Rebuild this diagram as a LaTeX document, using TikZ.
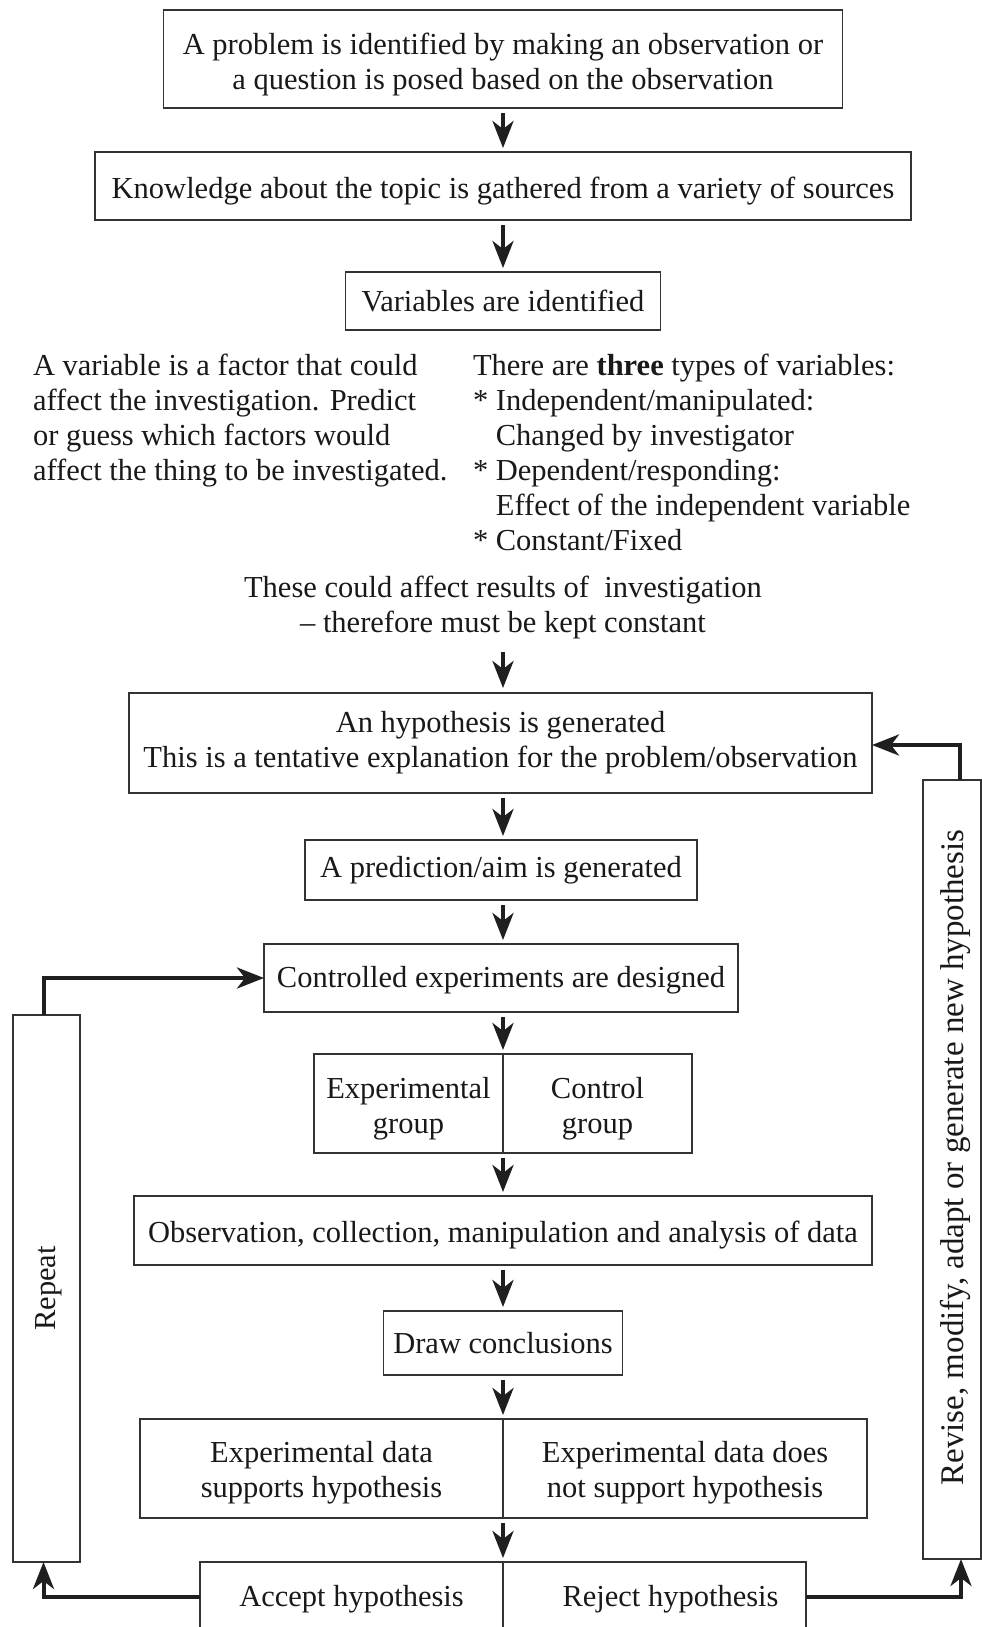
\documentclass[tikz,border=0pt]{standalone}
\usepackage{fontspec}
\setmainfont{Liberation Serif}
\usetikzlibrary{arrows.meta}
\newcommand\dnstrut[1]{\rule{0pt}{#1}}
\begin{document}
\begin{tikzpicture}[x=1pt,y=-1pt,
  every node/.style={font=\fontsize{30.5}{35}\selectfont, text=black!90},
  box/.style={draw=black!80, line width=1.4pt, inner sep=0pt, outer sep=0pt, align=center},
  txt/.style={inner sep=0pt, outer sep=0pt},
  arr/.style={line width=4pt, draw=black!88, -{Stealth[length=27pt,width=21pt,inset=8pt]}},
  varr/.style={arr, shorten <=5pt, shorten >=4pt}]
\clip (0,0) rectangle (982,1627);
\fill[white] (0,0) rectangle (982,1627);

% main column
\node[box, minimum width=679pt, minimum height=98pt] (b1) at (503,59)
  {\dnstrut{33pt}A problem is identified by making an observation or\\a question is posed based on the observation};
\node[box, minimum width=816pt, minimum height=68pt] (b2) at (503,186)
  {\dnstrut{31pt}Knowledge about the topic is gathered from a variety of sources};
\node[box, minimum width=315pt, minimum height=58pt] (b3) at (503,301)
  {Variables are identified};

\node[txt, anchor=north west, align=left] (tl) at (33,354)
  {A variable is a factor that could\\affect the investigation. Predict\\or guess which factors would\\affect the thing to be investigated.};
\node[txt, anchor=north west, align=left] (tr) at (473,354)
  {There are \textbf{three} types of variables:\\{*} Independent/manipulated:\\\hphantom{* }Changed by investigator\\{*} Dependent/responding:\\\hphantom{* }Effect of the independent variable\\{*} Constant/Fixed};

\node[txt, align=center] (ths) at (503,608)
  {These could affect results of\ \ investigation\\– therefore must be kept constant};

\node[box, minimum width=743pt, minimum height=100pt] (hyp) at (500.5,743)
  {An hypothesis is generated\\This is a tentative explanation for the problem/observation};
\node[box, minimum width=392pt, minimum height=60pt] (pred) at (501,870)
  {A prediction/aim is generated};
\node[box, minimum width=474pt, minimum height=68pt] (ctl) at (501,978)
  {\dnstrut{25pt}Controlled experiments are designed};

\node[box, minimum width=189pt, minimum height=99pt] (expg) at (408.5,1103.5)
  {\dnstrut{31pt}Experimental\\group};
\node[box, minimum width=189pt, minimum height=99pt] (ctrg) at (597.5,1103.5)
  {\dnstrut{31pt}Control\\group};

\node[box, minimum width=738pt, minimum height=69pt] (obs) at (503,1230.5)
  {\dnstrut{31pt}Observation, collection, manipulation and analysis of data};
\node[box, minimum width=239pt, minimum height=64pt] (drw) at (503,1343)
  {Draw conclusions};

\node[box, minimum width=363pt, minimum height=99pt] (eds) at (321.5,1468.5)
  {\dnstrut{29pt}Experimental data\\supports hypothesis};
\node[box, minimum width=364pt, minimum height=99pt] (edn) at (685,1468.5)
  {\dnstrut{29pt}Experimental data does\\not support hypothesis};

\node[box, minimum width=303pt, minimum height=70pt] (acc) at (351.5,1597)
  {\dnstrut{25pt}Accept hypothesis};
\node[box, minimum width=303pt, minimum height=70pt] (rej) at (654.5,1597) {};
\node[txt] (rejt) at ([xshift=16pt,yshift=-2pt]rej.center) {Reject hypothesis};

% side boxes
\node[box, minimum width=67pt, minimum height=547pt] (rep) at (46.5,1288.5) {};
\node[txt, rotate=90] (rept) at ([xshift=2pt]rep.center) {Repeat};
\node[box, minimum width=58pt, minimum height=779pt] (rev) at (952,1169.5) {};
\node[txt, rotate=90, font=\fontsize{33}{38}\selectfont] (revt) at ([xshift=3pt,yshift=12pt]rev.center)
  {Revise, modify, adapt or generate new hypothesis};

% vertical arrows
\draw[varr] (b1.south) -- (b2.north);
\draw[varr] (b2.south) -- (b3.north);
\draw[arr, shorten <=13pt, shorten >=5pt] (ths.south) -- (ths.south |- hyp.north);
\draw[varr] (hyp.south -| b3.south) -- (b3.south |- pred.north);
\draw[varr] (pred.south -| b3.south) -- (b3.south |- ctl.north);
\draw[varr] (expg.north east |- ctl.south) -- (expg.north east);
\draw[varr] (expg.south east) -- (obs.north);
\draw[varr] (obs.south) -- (drw.north);
\draw[varr] (drw.south) -- (eds.north east);
\draw[varr] (eds.south east) -- (acc.north east);

% loops
\draw[arr] (acc.west) -| ([xshift=-3pt]rep.south);
\draw[arr] ([xshift=-3pt]rep.north) |- (ctl.west);
\draw[arr] (rej.east) -| ([xshift=9pt]rev.south);
\draw[arr] ([xshift=8pt]rev.north) |- ([yshift=-2pt]hyp.east);
\end{tikzpicture}
\end{document}
